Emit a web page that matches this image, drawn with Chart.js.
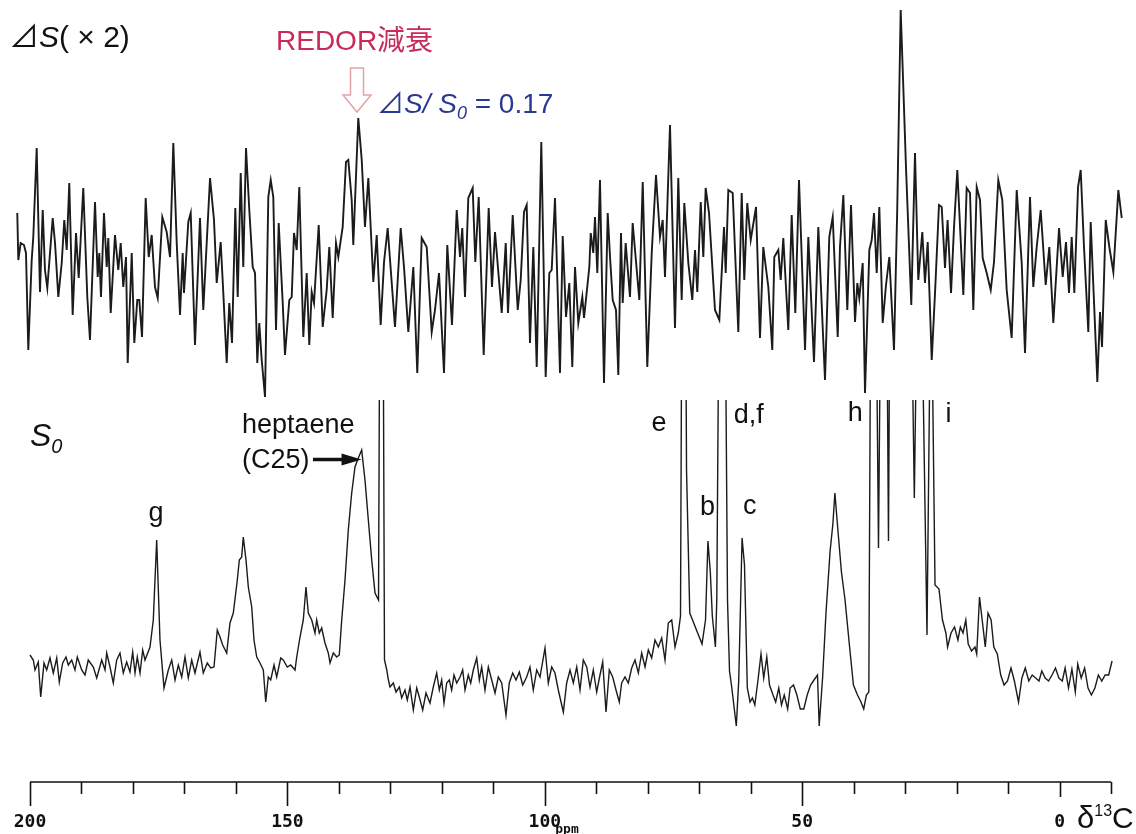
<!DOCTYPE html>
<html>
<head>
<meta charset="utf-8">
<script src="https://cdn.jsdelivr.net/npm/chart.js@4.4.0/dist/chart.umd.min.js"></script>
<style>
  html, body { margin: 0; padding: 0; background: #fff; }
  #wrap { width: 1136px; height: 834px; }
</style>
</head>
<body>
<div id="wrap"><canvas id="spectrum" width="1136" height="834"></canvas></div>
<script>
// ΔS (x2) difference spectrum: chemical shift (ppm) / intensity
const dsPpm = [
  202.47, 202.27, 201.81, 201.17, 200.78, 200.33, 199.67, 199.36, 198.70, 198.06,
  197.53, 197.09, 196.64, 195.59, 195.14, 194.50, 193.84, 193.34, 192.87, 192.37,
  191.71, 191.06, 190.54, 189.65, 188.87, 188.35, 187.37, 186.85, 186.54, 186.21,
  185.63, 185.10, 184.79, 184.32, 183.49, 182.85, 182.38, 181.88, 181.35, 181.02,
  180.24, 179.74, 179.16, 178.77, 178.24, 177.53, 176.94, 176.36, 175.72, 175.19,
  174.30, 173.45, 172.80, 172.16, 171.50, 170.86, 170.34, 170.09, 169.25, 168.78,
  167.95, 166.98, 166.34, 165.03, 164.26, 163.73, 162.96, 162.45, 161.79, 161.29,
  160.76, 160.12, 159.65, 159.07, 158.57, 158.04, 157.40, 156.74, 156.29, 155.85,
  155.46, 154.99, 154.35, 153.71, 153.24, 152.74, 152.21, 151.69, 150.91, 150.47,
  149.63, 149.16, 148.72, 148.19, 147.69, 146.91, 146.25, 145.75, 145.28, 144.83,
  143.92, 143.14, 142.37, 141.86, 141.20, 140.56, 140.11, 139.26, 138.62, 138.17,
  137.51, 137.20, 136.23, 135.56, 134.93, 134.28, 133.31, 132.65, 131.88, 131.23,
  130.52, 129.10, 127.99, 127.35, 126.51, 125.54, 124.77, 123.91, 122.94, 121.97,
  121.33, 120.55, 119.58, 118.94, 118.03, 117.11, 116.47, 116.03, 115.50, 114.86,
  114.01, 113.50, 112.84, 111.87, 110.90, 110.26, 109.67, 108.37, 107.59, 107.15,
  106.23, 105.26, 104.68, 104.04, 103.52, 102.88, 102.23, 101.57, 100.68, 99.83,
  99.12, 98.66, 98.02, 97.05, 96.52, 95.88, 95.24, 94.66, 94.13, 93.49,
  92.71, 92.38, 91.35, 91.08, 90.58, 90.25, 89.80, 89.28, 88.50, 87.78,
  87.33, 86.81, 86.17, 85.72, 85.20, 84.87, 84.29, 83.45, 82.93, 81.64,
  80.98, 80.09, 79.23, 78.40, 77.62, 77.10, 76.65, 75.68, 74.71, 74.07,
  73.41, 72.90, 72.12, 71.35, 70.82, 70.38, 69.71, 69.21, 68.75, 68.10,
  66.94, 66.10, 65.19, 64.86, 64.35, 63.50, 62.41, 61.75, 61.25, 60.67,
  60.00, 58.97, 58.20, 57.56, 56.58, 55.81, 55.42, 54.64, 54.18, 53.67,
  52.70, 52.04, 51.34, 50.62, 49.45, 48.81, 47.71, 46.87, 45.57, 44.74,
  44.07, 43.10, 42.66, 42.01, 41.24, 40.52, 39.74, 39.29, 38.91, 38.25,
  37.80, 36.96, 36.50, 36.05, 35.53, 35.02, 34.36, 33.72, 33.08, 32.17,
  31.53, 30.87, 30.36, 29.84, 28.81, 28.09, 27.45, 26.67, 26.15, 25.62,
  24.84, 24.20, 23.43, 22.90, 22.26, 21.76, 21.09, 20.51, 19.87, 18.70,
  18.05, 17.40, 16.76, 16.10, 15.46, 14.94, 14.16, 13.38, 12.74, 11.91,
  11.13, 10.28, 9.31, 8.33, 7.36, 6.72, 5.75, 5.11, 4.45, 3.67,
  2.70, 2.00, 1.22, 0.11, -0.60, -1.24, -1.83, -2.35, -2.86, -3.58,
  -4.10, -4.74, -5.58, -6.04, -7.33, -7.85, -8.24, -8.96, -9.66, -10.44,
  -11.41, -12.07
];
const dsInt = [
  4.5, -0.2, 1.5, 1.3, 0.5, -9.2, -0.2, 2.1, 11.0, -3.4,
  4.8, -1.2, -3.0, 4.0, 1.5, -3.9, -0.5, 3.8, 0.8, 7.5,
  -5.7, 2.5, -2.0, 7.0, -3.9, -8.2, 5.6, -1.9, 0.5, -3.9,
  4.5, -0.9, 2.0, -5.5, 2.3, -1.2, 1.5, -2.9, 0.1, -10.5,
  0.5, -8.5, -4.2, -4.2, -7.9, 6.0, 0.1, 2.3, -2.9, -4.0,
  4.1, 2.6, 0.1, 11.5, 1.5, -5.7, 0.5, -3.5, 3.6, 4.5,
  -8.7, 4.0, -5.2, 8.0, 3.8, -2.5, 1.6, -3.5, -10.5, -4.5,
  -8.5, 5.0, -3.9, 8.5, -0.9, 11.0, 4.8, -0.9, -1.5, -10.5,
  -6.5, -10.2, -13.9, 6.1, 7.8, 6.1, -7.2, 3.5, -4.5, -9.7,
  -4.2, -3.9, 2.5, 0.8, 7.1, -7.9, -1.5, -8.7, -3.4, -4.5,
  3.3, -6.9, -3.2, 1.1, -6.0, 1.5, 0.1, 3.1, 9.6, 9.8,
  5.8, 1.3, 14.0, 9.8, 3.1, 8.0, -2.4, 2.3, -6.7, -0.4,
  3.0, -6.9, 3.0, -0.9, -7.4, -0.9, -11.5, 2.0, 1.1, -7.4,
  -5.2, -1.5, -11.5, 1.3, -6.7, 4.8, 0.1, 3.0, -3.9, 6.0,
  7.0, -0.4, 6.1, -9.7, 5.0, -2.9, 2.6, -5.5, 1.5, -5.5,
  4.3, -5.2, -2.2, 4.6, 5.3, -8.5, 1.1, -10.9, 11.6, -11.9,
  -1.5, -1.2, 6.0, -11.5, 2.2, -5.9, -2.5, -10.9, -0.9, -6.5,
  -3.9, -6.0, -0.9, 2.5, 0.5, 4.1, -1.5, 7.8, -12.5, 4.5,
  0.1, -4.2, -5.2, -11.7, 2.5, -4.5, 1.5, -3.9, 3.5, -4.2,
  7.6, -10.9, 0.5, 8.3, 2.1, 3.8, -1.9, 13.3, -7.0, 8.0,
  -4.2, 5.5, -0.5, -4.2, 0.8, -3.4, 5.6, 0.1, 7.0, 4.5,
  -5.2, -6.2, 3.1, -1.5, 6.8, 6.5, -7.4, 6.5, -2.2, 5.5,
  1.8, 5.1, -8.0, 1.1, -2.9, -9.2, 0.1, 0.8, -2.2, 2.0,
  -7.2, 4.3, -5.5, 7.8, -9.2, 2.1, -10.4, 3.1, -12.2, 2.1,
  4.1, -7.9, 1.1, 6.3, -5.2, 5.3, -6.4, -2.5, -4.0, -0.5,
  -13.5, 0.8, 1.8, 4.5, -1.5, 5.1, -6.5, -2.7, 0.1, -9.2,
  5.1, 24.8, 17.1, 9.1, -4.7, 10.5, -2.2, 2.6, -2.5, 1.6,
  -10.2, -3.5, 5.3, 5.1, -1.0, 3.8, -3.5, 3.1, 8.8, -3.7,
  7.0, 6.5, -5.2, 7.1, 5.8, 0.0, -1.5, -3.2, -0.4, 7.8,
  5.8, -3.2, -8.0, 6.8, -0.5, -9.5, 6.1, -2.9, 1.1, 4.8,
  -2.7, 1.1, -6.5, 3.0, -1.9, 1.6, -3.5, 2.1, -3.5, 7.1,
  8.8, 1.1, -7.4, 3.6, -12.4, -5.4, -8.9, 3.8, 1.1, -1.4,
  6.8, 4.0
];

// S0 full-echo spectrum (tall lines run off the panel top)
const s0Ppm = [
  200.00, 199.36, 199.03, 198.39, 197.92, 197.28, 196.76, 196.12, 195.47, 194.81,
  194.31, 193.65, 193.01, 192.56, 191.90, 191.26, 190.81, 189.96, 189.32, 188.68,
  187.70, 187.04, 186.07, 185.43, 185.10, 184.46, 183.82, 183.16, 182.52, 181.88,
  181.22, 180.58, 180.05, 179.60, 179.16, 178.63, 178.11, 177.66, 176.69, 176.05,
  175.39, 174.75, 173.97, 173.13, 172.47, 171.83, 171.19, 170.53, 169.89, 169.25,
  168.59, 167.95, 166.98, 166.34, 165.56, 164.90, 164.26, 163.62, 163.09, 162.57,
  161.79, 161.15, 160.51, 159.73, 159.34, 158.88, 158.57, 158.04, 157.59, 156.93,
  156.49, 155.96, 155.32, 154.68, 154.21, 153.71, 153.24, 152.60, 152.08, 151.30,
  150.80, 150.02, 149.36, 148.52, 148.19, 147.55, 146.91, 146.39, 145.94, 145.28,
  144.64, 144.31, 143.80, 143.34, 142.70, 142.06, 141.72, 141.08, 140.42, 139.92,
  139.45, 138.81, 138.17, 137.51, 136.87, 136.23, 135.57, 134.93, 134.28, 133.62,
  132.98, 132.30, 131.72, 131.14, 130.70, 130.38, 130.07, 129.43, 128.90, 128.26,
  127.80, 127.16, 126.71, 126.18, 125.54, 124.88, 124.38, 123.72, 123.08, 122.30,
  121.66, 121.00, 120.49, 120.03, 119.58, 119.06, 118.55, 118.09, 117.64, 117.11,
  116.47, 115.95, 115.50, 114.86, 114.39, 113.89, 113.23, 112.72, 112.26, 111.62,
  110.97, 110.31, 109.67, 109.03, 108.37, 107.54, 106.90, 106.24, 105.59, 104.95,
  104.29, 103.52, 102.88, 102.24, 101.57, 100.93, 99.96, 99.32, 98.66, 98.02,
  97.38, 96.40, 95.75, 95.10, 94.46, 93.80, 93.16, 92.52, 91.86, 91.22,
  90.58, 89.92, 89.28, 88.75, 88.11, 87.47, 86.81, 86.17, 85.53, 85.07,
  84.42, 83.78, 83.12, 82.48, 81.83, 81.18, 80.53, 79.89, 79.24, 78.59,
  77.95, 77.29, 76.65, 76.01, 75.35, 74.71, 74.07, 73.64, 73.05, 72.47,
  71.84, 71.30, 70.31, 69.46, 68.78, 68.31, 67.85, 67.46, 66.86, 66.59,
  65.58, 64.51, 64.12, 63.67, 62.80, 62.33, 61.68, 61.21, 60.66, 60.13,
  59.67, 59.20, 58.54, 58.00, 57.48, 56.88, 56.35, 55.67, 55.15, 54.55,
  54.02, 53.49, 52.82, 52.35, 51.69, 51.03, 50.37, 49.69, 49.03, 48.37,
  47.71, 47.03, 46.70, 46.04, 45.38, 44.58, 44.04, 43.65, 43.05, 42.38,
  41.70, 40.85, 40.05, 39.26, 38.58, 38.05, 37.53, 37.06, 36.34, 35.18,
  34.11, 33.24, 32.56, 30.61, 28.77, 28.22, 27.70, 26.92, 25.76, 24.98,
  24.20, 23.43, 22.75, 22.09, 21.76, 21.09, 20.41, 19.75, 19.28, 18.76,
  18.22, 17.75, 17.09, 16.44, 16.10, 15.56, 14.88, 14.44, 13.90, 13.30,
  12.78, 12.10, 11.44, 10.78, 10.12, 9.44, 8.78, 7.98, 7.32, 6.67,
  5.98, 5.32, 4.66, 4.00, 3.46, 2.80, 2.14, 1.47, 0.80, 0.14,
  -0.53, -1.07, -1.73, -2.39, -3.05, -3.52, -4.20, -4.86, -5.52, -6.18,
  -6.86, -7.53, -8.19, -8.85, -9.53, -10.19
];
const s0Int = [
  1.0, 0.5, -0.5, 0.3, -3.2, 0.2, -0.5, 0.7, -0.8, 0.7,
  -1.7, 0.2, 0.8, 0.0, 0.5, -0.5, 0.8, -0.5, -1.0, 0.5,
  -0.2, -1.3, 0.5, -0.5, 1.2, -0.2, -1.8, 0.5, 1.2, -0.8,
  0.3, -0.7, 1.3, -0.8, 0.8, -0.8, 1.5, 0.5, 1.8, 4.5,
  12.5, 2.5, -2.3, -0.5, 0.5, -1.5, 0.0, -1.2, 0.8, -1.3,
  0.5, -0.8, 1.3, -0.8, 0.2, -0.3, -0.2, 3.5, 2.8, 2.0,
  1.2, 4.2, 5.2, 8.5, 10.5, 10.8, 12.8, 10.5, 7.8, 5.8,
  2.5, 0.8, 0.2, -0.5, -3.7, -1.2, -1.5, 0.0, -1.2, 0.7,
  0.5, -0.2, 0.0, -0.5, 0.8, 2.8, 4.5, 7.8, 5.2, 4.5,
  3.2, 4.5, 3.2, 3.7, 2.2, 1.2, 0.2, 1.2, 0.8, 1.0,
  4.5, 8.5, 13.5, 17.2, 19.8, 20.7, 21.5, 18.5, 14.5, 10.5,
  7.2, 6.5, 80.0, 0.5, -0.5, -1.5, -2.2, -1.8, -2.7, -2.2,
  -3.3, -2.5, -3.5, -2.2, -4.5, -2.3, -3.2, -4.5, -2.8, -3.8,
  -2.2, -0.8, -2.5, -1.5, -3.8, -1.8, -1.5, -2.5, -1.0, -1.8,
  -1.2, -0.5, -2.5, -1.0, -1.8, -0.5, 0.7, -1.5, -0.2, -2.5,
  -0.2, -1.5, -2.8, -1.2, -1.8, -5.0, -1.8, -0.8, -1.5, -0.7,
  -2.0, -1.2, -0.2, -2.5, -0.5, -1.2, 1.7, -1.8, -0.2, -0.8,
  -2.5, -4.7, -1.8, -0.5, -1.8, -0.2, -2.5, 0.5, -0.2, -2.2,
  -0.5, -2.7, -1.0, 0.3, -4.7, -0.5, -1.2, -2.5, -3.7, -1.8,
  -1.2, -1.8, -0.3, 0.5, -0.8, 1.2, -0.2, 1.5, 0.7, 2.5,
  1.8, 2.7, 0.5, 4.2, 4.5, 1.8, 3.2, 4.9, 80.0, 19.5,
  5.2, 4.5, 3.2, 2.1, 4.5, 12.4, 9.3, 4.9, 1.8, 6.5,
  80.0, 6.5, -0.6, -2.3, -6.1, -1.6, 12.7, 10.0, -2.3, -3.7,
  -3.3, -4.0, -1.3, 1.1, -1.3, 0.8, -2.0, -3.0, -3.7, -2.3,
  -4.0, -3.0, -4.4, -2.3, -2.0, -3.0, -4.4, -4.4, -3.0, -2.0,
  -1.5, -1.0, -6.1, -1.3, 5.2, 11.4, 14.1, 17.2, 13.4, 9.3,
  6.6, 2.1, -2.0, -3.0, -3.7, -4.4, -3.0, -2.7, 76.5, 11.7,
  76.5, 12.4, 76.5, 96.5, 36.5, 16.7, 36.5, 41.5, 3.0, 41.5,
  8.0, 7.6, 4.5, 3.2, 1.8, 3.2, 3.8, 2.5, 3.8, 3.2,
  4.5, 2.1, 1.4, 1.8, 1.1, 6.8, 3.8, 1.8, 5.2, 4.5,
  1.8, 1.1, -1.0, -2.0, -1.6, -0.3, -1.6, -3.7, -1.3, -0.3,
  -1.6, -1.0, -1.3, -1.6, -0.6, -1.3, -1.6, -1.0, -0.3, -1.3,
  -1.6, -0.3, -2.3, -0.4, -2.7, 0.1, -1.3, -0.3, -2.3, -3.0,
  -2.3, -1.0, -1.6, -1.0, -1.0, 0.4
];

// ruler: minor ticks every 10 ppm, labelled ticks every 50
const rulerTicks = [200, 190, 180, 170, 160, 150, 140, 130, 120, 110, 100,
                    90, 80, 70, 60, 50, 40, 30, 20, 10, 0, -10];
const majorTicks = [200, 150, 100, 50, 0];
const majorLabels = ['200', '150', '100', '50', '0'];

// peak assignment letters and where they sit along the shift axis
const peakNames = ['g', 'e', 'b', 'd,f', 'c', 'h', 'i'];
const peakLabelPpm = [175.5, 77.8, 68.4, 60.4, 60.2, 39.7, 21.6];

const SANS = '"Liberation Sans", Arial, "DejaVu Sans", "Noto Sans CJK JP", sans-serif';
const MONO = '"DejaVu Sans Mono", "Liberation Mono", monospace';
const TRI = '"Noto Sans CJK JP", "DejaVu Sans", sans-serif';

// draws a run of text pieces left to right: [text, font, dy]
function drawRun(ctx, x, y, pieces) {
  pieces.forEach(([txt, font, dy]) => {
    ctx.font = font;
    ctx.fillText(txt, x, y + (dy || 0));
    x += ctx.measureText(txt).width;
  });
  return x;
}

const overlay = {
  id: 'overlay',
  afterDraw(chart) {
    const ctx = chart.ctx;
    const xs = chart.scales.x;
    ctx.save();

    // ppm ruler
    const yAxis = 782;
    ctx.strokeStyle = '#111';
    ctx.lineWidth = 1.6;
    ctx.beginPath();
    ctx.moveTo(xs.getPixelForValue(rulerTicks[0]), yAxis);
    ctx.lineTo(xs.getPixelForValue(rulerTicks[rulerTicks.length - 1]), yAxis);
    rulerTicks.forEach(v => {
      const px = Math.round(xs.getPixelForValue(v)) + 0.5;
      let len = 12;
      if (v === 0) len = 15;
      else if (majorTicks.includes(v)) len = 24;
      ctx.moveTo(px, yAxis);
      ctx.lineTo(px, yAxis + len);
    });
    ctx.stroke();

    ctx.fillStyle = '#111';
    ctx.textAlign = 'center';
    ctx.textBaseline = 'alphabetic';
    ctx.font = 'bold 18px ' + MONO;
    majorTicks.forEach((v, i) => {
      ctx.fillText(majorLabels[i], xs.getPixelForValue(v), 827);
    });
    ctx.font = 'bold 13px ' + MONO;
    ctx.fillText('ppm', 567, 833);

    ctx.textAlign = 'left';
    drawRun(ctx, 1077, 828, [
      ['δ', '31px ' + SANS],
      ['13', '16px ' + SANS, -12],
      ['C', '30px ' + SANS]
    ]);

    // panel titles
    ctx.fillStyle = '#111';
    drawRun(ctx, 9, 47, [
      ['⊿', '30px ' + TRI],
      ['S', 'italic 30px ' + SANS],
      ['( × 2)', '30px ' + SANS]
    ]);
    drawRun(ctx, 30, 446, [
      ['S', 'italic 32px ' + SANS],
      ['0', 'italic 20px ' + SANS, 7]
    ]);

    // REDOR dephasing marker
    ctx.fillStyle = '#c92a58';
    ctx.font = '28px ' + SANS;
    ctx.fillText('REDOR減衰', 276, 50);

    ctx.strokeStyle = '#e4a3a6';
    ctx.lineWidth = 1.5;
    ctx.beginPath();
    ctx.moveTo(350.5, 68); ctx.lineTo(363.5, 68); ctx.lineTo(363.5, 95);
    ctx.lineTo(371, 95); ctx.lineTo(357, 112); ctx.lineTo(343, 95);
    ctx.lineTo(350.5, 95); ctx.closePath();
    ctx.stroke();

    ctx.fillStyle = '#2a3990';
    drawRun(ctx, 377, 113, [
      ['⊿', '27px ' + TRI],
      ['S/ S', 'italic 28px ' + SANS],
      ['0', 'italic 18px ' + SANS, 6],
      [' = 0.17', '28px ' + SANS]
    ]);

    // heptaene label with arrow to its peak
    ctx.fillStyle = '#111';
    ctx.font = '27px ' + SANS;
    ctx.fillText('heptaene', 242, 433);
    ctx.fillText('(C25)', 242, 468);
    const tip = xs.getPixelForValue(135.6);
    ctx.strokeStyle = '#111';
    ctx.lineWidth = 3.5;
    ctx.beginPath();
    ctx.moveTo(313, 459.5);
    ctx.lineTo(tip - 14, 459.5);
    ctx.stroke();
    ctx.beginPath();
    ctx.moveTo(tip - 20, 453.5);
    ctx.lineTo(tip, 459.5);
    ctx.lineTo(tip - 20, 465.5);
    ctx.closePath();
    ctx.fill();

    // peak letters
    const letterY = { g: 521, e: 431, b: 515, 'd,f': 423, c: 514, h: 421, i: 422 };
    ctx.textAlign = 'center';
    ctx.font = '27px ' + SANS;
    peakNames.forEach((name, i) => {
      ctx.fillText(name, xs.getPixelForValue(peakLabelPpm[i]), letterY[name]);
    });

    ctx.restore();
  }
};

const toPoints = (xsArr, ysArr) => xsArr.map((x, i) => ({ x: x, y: ysArr[i] }));

new Chart(document.getElementById('spectrum'), {
  type: 'line',
  data: {
    datasets: [
      {
        label: 'ΔS (×2)',
        data: toPoints(dsPpm, dsInt),
        yAxisID: 'yTop',
        borderColor: '#1b1b1b',
        borderWidth: 1.9,
        pointRadius: 0,
        tension: 0,
        fill: false
      },
      {
        label: 'S0',
        data: toPoints(s0Ppm, s0Int),
        yAxisID: 'yBot',
        borderColor: '#1b1b1b',
        borderWidth: 1.4,
        pointRadius: 0,
        tension: 0,
        fill: false,
        clip: { left: 10, right: 10, top: -400, bottom: 0 }
      }
    ]
  },
  options: {
    responsive: false,
    animation: false,
    devicePixelRatio: 1,
    layout: { padding: { left: 10, right: 10, top: 0, bottom: 0 } },
    plugins: {
      legend: { display: false },
      tooltip: { enabled: false }
    },
    scales: {
      x: { type: 'linear', reverse: true, min: -12.898, max: 203.885, display: false },
      yTop: { type: 'linear', min: -57.6, max: 25.8, display: false },
      yBot: { type: 'linear', min: -16.9, max: 66.5, display: false }
    }
  },
  plugins: [overlay]
});
</script>
</body>
</html>
